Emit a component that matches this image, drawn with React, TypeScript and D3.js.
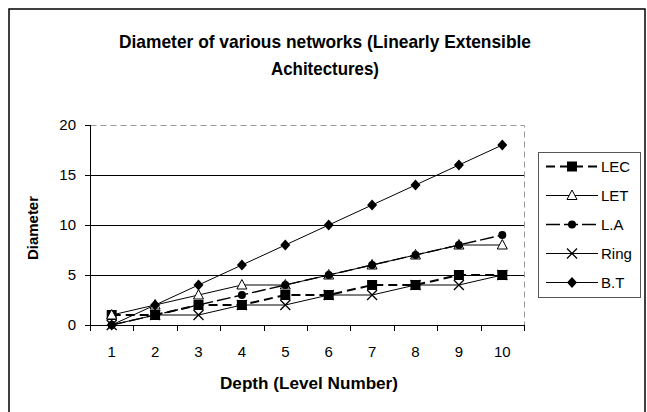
import React from "react";
import * as d3 from "d3";

const depths = [1, 2, 3, 4, 5, 6, 7, 8, 9, 10];
const yTicks = [0, 5, 10, 15, 20];
const seriesNames = ["LEC", "LET", "L.A", "Ring", "B.T"];
const lecValues = [1, 1, 2, 2, 3, 3, 4, 4, 5, 5];
const letValues = [1, 2, 3, 4, 4, 5, 6, 7, 8, 8];
const laValues = [0, 1, 2, 3, 4, 5, 6, 7, 8, 9];
const ringValues = [0, 1, 1, 2, 2, 3, 3, 4, 4, 5];
const btValues = [0, 2, 4, 6, 8, 10, 12, 14, 16, 18];
const titleLines = ["Diameter of various networks (Linearly Extensible", "Achitectures)"];
const xTitle = "Depth (Level Number)";
const yTitle = "Diameter";

type Style = { dash: string; width: number; marker: string };
const styles: Style[] = [
  { dash: "9,5", width: 2, marker: "square" },
  { dash: "", width: 1, marker: "triangle" },
  { dash: "14,4", width: 1.4, marker: "circle" },
  { dash: "", width: 1, marker: "x" },
  { dash: "", width: 1, marker: "diamond" },
];

const FONT = "'Liberation Sans', Arial, sans-serif";

function Marker({ type, x, y }: { type: string; x: number; y: number }) {
  if (type === "square") return <rect x={x - 5} y={y - 5} width={10} height={10} fill="#000" />;
  if (type === "triangle")
    return <path d={`M${x},${y - 5.5}L${x + 5},${y + 4}L${x - 5},${y + 4}Z`} fill="#fff" stroke="#000" strokeWidth={1} />;
  if (type === "circle") return <circle cx={x} cy={y} r={4} fill="#000" />;
  if (type === "x")
    return <path d={`M${x - 5},${y - 5}L${x + 5},${y + 5}M${x - 5},${y + 5}L${x + 5},${y - 5}`} stroke="#000" strokeWidth={1.3} fill="none" />;
  return <path d={`M${x},${y - 5.5}L${x + 5},${y}L${x},${y + 5.5}L${x - 5},${y}Z`} fill="#000" />;
}

export default function App() {
  const left = 90, right = 524, top = 125, bottom = 325;
  const x = d3.scaleBand<number>().domain(depths).range([left, right]).padding(0);
  const cx = (d: number) => (x(d) as number) + x.bandwidth() / 2;
  const y = d3.scaleLinear().domain([0, 20]).range([bottom, top]);
  const allValues = [lecValues, letValues, laValues, ringValues, btValues];
  const line = d3.line<number>().x((_, i) => cx(depths[i])).y((v) => y(v));
  const boundaries = depths.map((d) => Math.round(x(d) as number)).concat([right]);

  return (
    <svg width={647} height={412} style={{ position: "absolute", left: 0, top: 0 }} fontFamily={FONT}>
      <rect x={0} y={0} width={647} height={412} fill="#fff" />
      <rect x={9} y={9} width={636} height={420} fill="none" stroke="#000" strokeWidth={1.5} />
      {titleLines.map((t, i) => (
        <text key={i} x={325} y={48 + i * 27} textAnchor="middle" fontSize={18.5} fontWeight="bold"
          textLength={i === 0 ? 412 : 108} lengthAdjust="spacingAndGlyphs">{t}</text>
      ))}
      {/* plot border */}
      <rect x={left + 0.5} y={top + 0.5} width={right - left} height={bottom - top} fill="none" stroke="#999" strokeDasharray="6,4" strokeWidth={1} />
      {/* gridlines */}
      {yTicks.filter((t) => t > 0 && t < 20).map((t) => (
        <line key={t} x1={left} x2={right} y1={y(t) + 0.5} y2={y(t) + 0.5} stroke="#000" strokeWidth={1} />
      ))}
      {/* y axis */}
      <line x1={left + 0.5} x2={left + 0.5} y1={top} y2={bottom} stroke="#000" strokeWidth={1} />
      {yTicks.map((t) => (
        <g key={t}>
          <line x1={left - 5} x2={left} y1={y(t) + 0.5} y2={y(t) + 0.5} stroke="#000" />
          <text x={left - 14} y={y(t)} dy="0.36em" textAnchor="end" fontSize={15}>{t}</text>
        </g>
      ))}
      {/* x axis */}
      <line x1={left} x2={right} y1={bottom + 0.5} y2={bottom + 0.5} stroke="#000" strokeWidth={1} />
      {boundaries.map((b, i) => (
        <line key={i} x1={b + 0.5} x2={b + 0.5} y1={bottom} y2={bottom + 6} stroke="#000" />
      ))}
      {depths.map((d) => (
        <text key={d} x={cx(d)} y={357} textAnchor="middle" fontSize={15}>{d}</text>
      ))}
      <text x={(left + right) / 2 + 2} y={389} textAnchor="middle" fontSize={16} fontWeight="bold"
        textLength={178} lengthAdjust="spacingAndGlyphs">{xTitle}</text>
      <text transform={`translate(32,228) rotate(-90)`} textAnchor="middle" dy="0.36em" fontSize={15.5} fontWeight="bold"
        textLength={64} lengthAdjust="spacingAndGlyphs">{yTitle}</text>
      {/* series */}
      {allValues.map((vals, si) => (
        <g key={si}>
          <path d={line(vals) as string} fill="none" stroke="#000" strokeWidth={styles[si].width} strokeDasharray={styles[si].dash || undefined} />
          {vals.map((v, i) => (
            <Marker key={i} type={styles[si].marker} x={cx(depths[i])} y={y(v)} />
          ))}
        </g>
      ))}
      {/* legend */}
      <rect x={538.5} y={152.5} width={102} height={145} fill="#fff" stroke="#555" strokeWidth={1} />
      {seriesNames.map((n, i) => {
        const ly = 166.5 + i * 29;
        return (
          <g key={n}>
            <line x1={546} x2={598} y1={ly} y2={ly} stroke="#000" strokeWidth={styles[i].width} strokeDasharray={styles[i].dash || undefined} />
            <Marker type={styles[i].marker} x={572} y={ly} />
            <text x={601} y={ly} dy="0.36em" fontSize={15}>{n}</text>
          </g>
        );
      })}
    </svg>
  );
}
